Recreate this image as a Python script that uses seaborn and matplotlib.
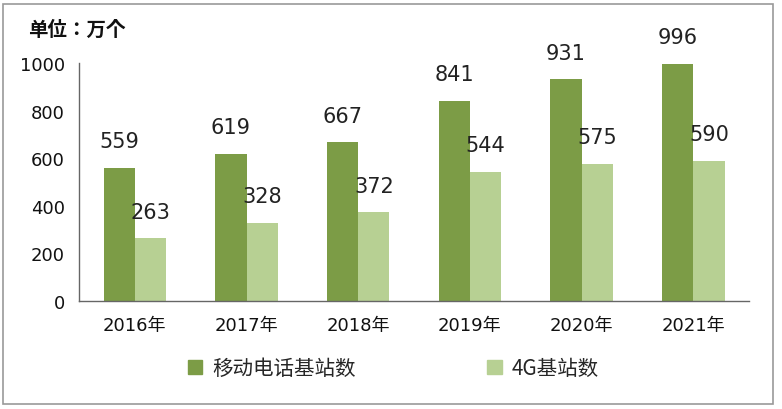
import pandas as pd
import seaborn as sns
import matplotlib.pyplot as plt
from matplotlib.patches import Rectangle

years = ['2016年', '2017年', '2018年', '2019年', '2020年', '2021年']
mobile = [559, 619, 667, 841, 931, 996]
g4 = [263, 328, 372, 544, 575, 590]
series = ['移动电话基站数', '4G基站数']
colors = ['#7c9c46', '#b7d093']

df = pd.DataFrame({
    'year': years * 2,
    'value': mobile + g4,
    'kind': [series[0]] * len(years) + [series[1]] * len(years),
})

sns.set_style('white')
plt.rcParams['font.family'] = ['DejaVu Sans', 'Noto Sans CJK SC']

fig = plt.figure(figsize=(7.82, 4.10), dpi=100)
ax = fig.add_axes([0.101, 0.2634, 0.857, 0.5805])

sns.barplot(data=df, x='year', y='value', hue='kind', palette=colors,
            width=0.56, gap=0, ax=ax, legend=False, saturation=1, linewidth=0)

for c in ax.containers:
    ax.bar_label(c, padding=12, fontsize=15, color='#222222')

ax.set_ylim(0, 1000)
ax.set_xlim(-0.5, 5.5)
ax.set_yticks(range(0, 1001, 200))
ax.set_xlabel('')
ax.set_ylabel('')
for s in ['top', 'right']:
    ax.spines[s].set_visible(False)
for s in ['left', 'bottom']:
    ax.spines[s].set_color('#666666')
    ax.spines[s].set_linewidth(1)
ax.tick_params(axis='y', direction='out', length=6, color='#666666', labelsize=13,
               pad=4, labelcolor='#111111')
ax.tick_params(axis='x', length=0, labelsize=13, pad=11, labelcolor='#111111')
ax.set_xticks([0.5, 1.5, 2.5, 3.5, 4.5, 5.5], minor=True)
ax.tick_params(axis='x', which='minor', direction='in', length=5, color='#666666')

fig.text(0.036, 0.925, '单位：万个', fontsize=14, fontweight='bold', ha='left', va='center',
         family=['Noto Sans CJK JP', 'DejaVu Sans'], color='#111111')

handles = [Rectangle((0, 0), 1, 1, color=colors[0]), Rectangle((0, 0), 1, 1, color=colors[1])]
fig.legend(handles, series, loc='center', bbox_to_anchor=(0.503, 0.1), ncol=2,
           frameon=False, handlelength=0.7, handleheight=0.7,
           handletextpad=0.5, columnspacing=6.4,
           prop={'family': ['Noto Sans CJK SC', 'DejaVu Sans'], 'size': 14.8})

fig.patches.append(Rectangle((0.004, 0.012), 0.985, 0.976, transform=fig.transFigure,
                             fill=False, edgecolor='#999999', linewidth=1.2))

fig.savefig('out.png', dpi=100)
